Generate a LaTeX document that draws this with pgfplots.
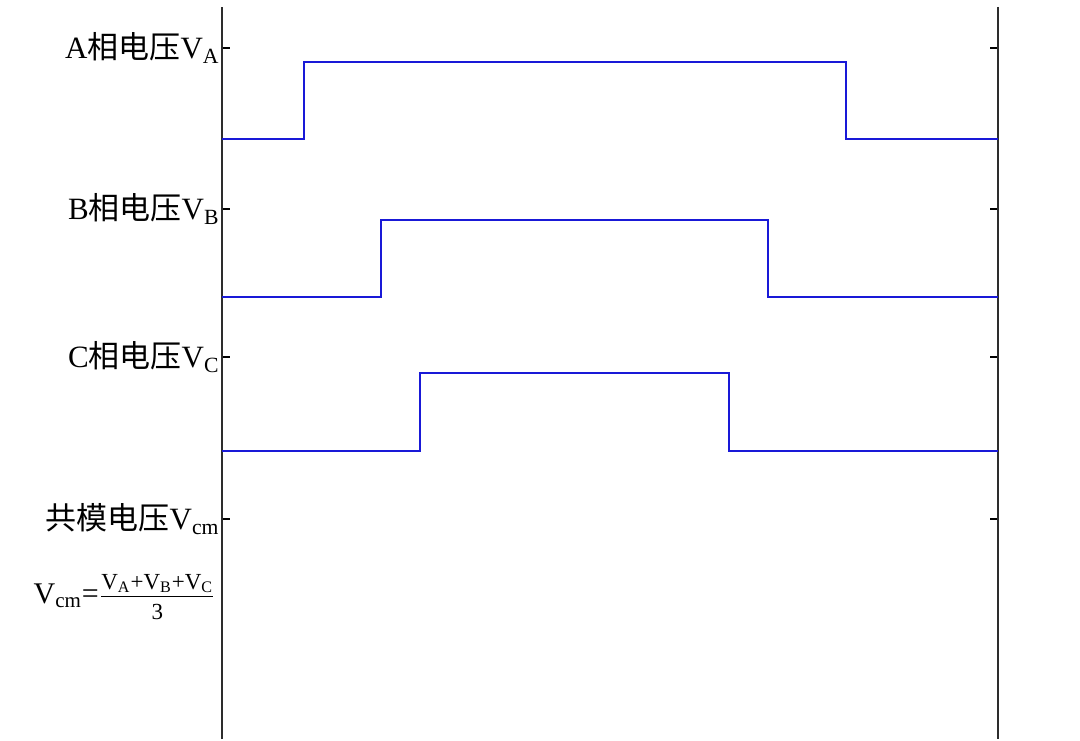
\documentclass[border=0pt]{standalone}
\usepackage{pgfplots}
\pgfplotsset{compat=1.18}
\usepackage{fontspec}
\setmainfont{Liberation Serif}
\newfontfamily\cjk{Noto Sans CJK SC}
\definecolor{sig}{RGB}{25,25,215}
\definecolor{axl}{RGB}{45,45,45}
\begin{document}
\begin{tikzpicture}[x=0.5pt,y=0.5pt]
\begin{axis}[
  scale only axis,
  width=388pt, height=366pt,
  xmin=222, xmax=998, ymin=0, ymax=732,
  clip=false,
  hide x axis,
  axis line style={axl, line width=1.2pt},
  ytick={691,530,382,220},
  yticklabels={
    A{\cjk 相电压}V\textsubscript{A},
    B{\cjk 相电压}V\textsubscript{B},
    C{\cjk 相电压}V\textsubscript{C},
    {\cjk 共模电压}V\textsubscript{cm}},
  tick align=inside,
  major tick length=4pt,
  tick style={black, line width=1.2pt},
  yticklabel style={font=\fontsize{15.5}{18}\selectfont, inner sep=1pt},
  ytick pos=both,
  yticklabel pos=left,
]
\addplot[sig, line width=1.2pt] coordinates {(222,600) (304,600) (304,677) (846,677) (846,600) (998,600)};
\addplot[sig, line width=1.2pt] coordinates {(222,442) (381,442) (381,519) (768,519) (768,442) (998,442)};
\addplot[sig, line width=1.2pt] coordinates {(222,288) (420,288) (420,366) (729,366) (729,288) (998,288)};
\node[anchor=east, font=\fontsize{15}{18}\selectfont, inner sep=0pt] at (axis cs:216,142)
  {$\mbox{V\textsubscript{cm}}\mbox{=}\frac{\mbox{\fontsize{11.5}{14}\selectfont V\textsubscript{A}+V\textsubscript{B}+V\textsubscript{C}\rule[-3pt]{0pt}{1pt}}}{\mbox{\fontsize{11.5}{14}\selectfont\rule{0pt}{11pt}3}}$};
\path[use as bounding box] (axis cs:0,0) rectangle (axis cs:1080,739);
\end{axis}
\end{tikzpicture}
\end{document}
